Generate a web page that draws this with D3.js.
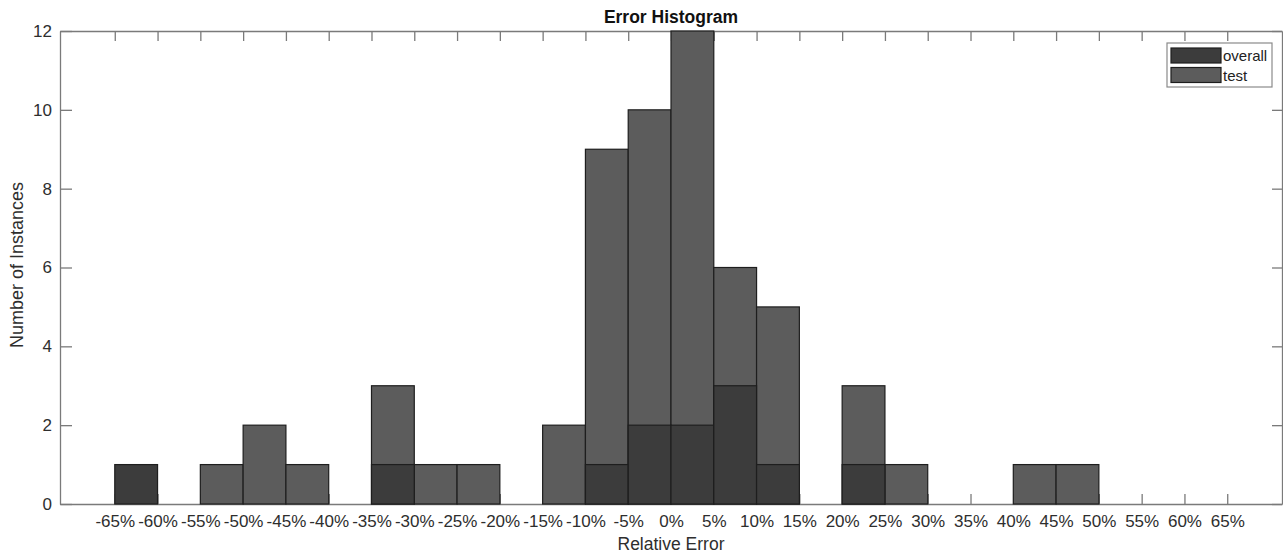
<!DOCTYPE html>
<html>
<head>
<meta charset="utf-8">
<script src="https://cdn.jsdelivr.net/npm/d3@7"></script>
<style>
  body { margin: 0; background: #fff; }
  svg { display: block; font-family: "Liberation Sans", Arial, sans-serif; }
  .tick text { fill: #2e2e2e; font-size: 17px; }
  .axis path, .axis line { stroke: #7a7a7a; stroke-width: 1.3; }
</style>
</head>
<body>
<div id="chart"></div>
<script>
// Histogram bins (left edge, in %), each 5% wide
const binLeft = [-65, -60, -55, -50, -45, -40, -35, -30, -25, -20, -15, -10, -5,
                 0, 5, 10, 15, 20, 25, 30, 35, 40, 45, 50, 55, 60];
const testCounts = [0, 0, 1, 2, 1, 0, 3, 1, 1, 0, 2, 9, 10,
                    12, 6, 5, 0, 3, 1, 0, 0, 1, 1, 0, 0, 0];
const overallCounts = [1, 0, 0, 0, 0, 0, 1, 0, 0, 0, 0, 1, 2,
                       2, 3, 1, 0, 1, 0, 0, 0, 0, 0, 0, 0, 0];
const binWidth = 5;

const xTicks = [-65, -60, -55, -50, -45, -40, -35, -30, -25, -20, -15, -10, -5,
                0, 5, 10, 15, 20, 25, 30, 35, 40, 45, 50, 55, 60, 65];
const yTicks = [0, 2, 4, 6, 8, 10, 12];

const seriesNames = ["overall", "test"];
const colors = { overall: "#3c3c3c", test: "#5c5c5c" };

function createHistogram() {
    const width = 1283;
    const height = 555;
    const m = { top: 31, right: 1, bottom: 51, left: 60 };

    const svg = d3.select("#chart").append("svg")
        .attr("width", width)
        .attr("height", height);

    const x = d3.scaleLinear()
        .domain([-71.4, 71.4])
        .range([m.left, width - m.right]);

    const y = d3.scaleLinear()
        .domain([0, 12])
        .range([height - m.bottom, m.top]);

    // axes (ticks point inward, like MATLAB)
    svg.append("g")
        .attr("class", "axis")
        .attr("transform", `translate(0, ${height - m.bottom})`)
        .call(d3.axisBottom(x).tickValues(xTicks).tickSizeInner(-10).tickSizeOuter(0)
            .tickPadding(11).tickFormat(d => d + "%"));

    svg.append("g")
        .attr("class", "axis")
        .attr("transform", `translate(0, ${m.top})`)
        .call(d3.axisTop(x).tickValues(xTicks).tickSizeInner(-10).tickSizeOuter(0).tickFormat(""));

    svg.append("g")
        .attr("class", "axis")
        .attr("transform", `translate(${m.left}, 0)`)
        .call(d3.axisLeft(y).tickValues(yTicks).tickSizeInner(-12).tickSizeOuter(0).tickPadding(8));

    svg.append("g")
        .attr("class", "axis")
        .attr("transform", `translate(${width - m.right}, 0)`)
        .call(d3.axisRight(y).tickValues(yTicks).tickSizeInner(-10).tickSizeOuter(0).tickFormat(""));

    // bars: test first, overall drawn over it
    const bins = binLeft.map((b, i) => ({ x0: b, test: testCounts[i], overall: overallCounts[i] }));

    ["test", "overall"].forEach(key => {
        svg.append("g")
            .selectAll("rect")
            .data(bins.filter(d => d[key] > 0))
            .join("rect")
            .attr("x", d => x(d.x0))
            .attr("y", d => y(d[key]))
            .attr("width", d => x(d.x0 + binWidth) - x(d.x0))
            .attr("height", d => y(0) - y(d[key]))
            .attr("fill", colors[key])
            .attr("stroke", "#1e1e1e")
            .attr("stroke-width", 1.2);
    });

    // title and axis labels
    svg.append("text")
        .attr("x", (m.left + width - m.right) / 2)
        .attr("y", 23)
        .attr("text-anchor", "middle")
        .attr("font-size", "17.5px")
        .attr("font-weight", "bold")
        .attr("fill", "#111")
        .text("Error Histogram");

    svg.append("text")
        .attr("x", (m.left + width - m.right) / 2)
        .attr("y", 550)
        .attr("text-anchor", "middle")
        .attr("font-size", "17.5px")
        .attr("fill", "#2e2e2e")
        .text("Relative Error");

    const yLabelX = 23;
    const yLabelY = 265;
    svg.append("text")
        .attr("x", yLabelX)
        .attr("y", yLabelY)
        .attr("text-anchor", "middle")
        .attr("font-size", "18px")
        .attr("fill", "#2e2e2e")
        .attr("transform", `rotate(-90, ${yLabelX}, ${yLabelY})`)
        .text("Number of Instances");

    // legend
    const lg = svg.append("g").attr("transform", "translate(1167, 43)");
    lg.append("rect")
        .attr("width", 105).attr("height", 44)
        .attr("fill", "#fff")
        .attr("stroke", "#8a8a8a")
        .attr("stroke-width", 1.2);

    seriesNames.forEach((name, i) => {
        lg.append("rect")
            .attr("x", 4).attr("y", 5 + i * 19.5)
            .attr("width", 50).attr("height", 15)
            .attr("fill", colors[name])
            .attr("stroke", "#1e1e1e")
            .attr("stroke-width", 1.2);
        lg.append("text")
            .attr("x", 56).attr("y", 18 + i * 19.5)
            .attr("font-size", "15px")
            .attr("fill", "#222")
            .text(name);
    });
}

createHistogram();
</script>
</body>
</html>
